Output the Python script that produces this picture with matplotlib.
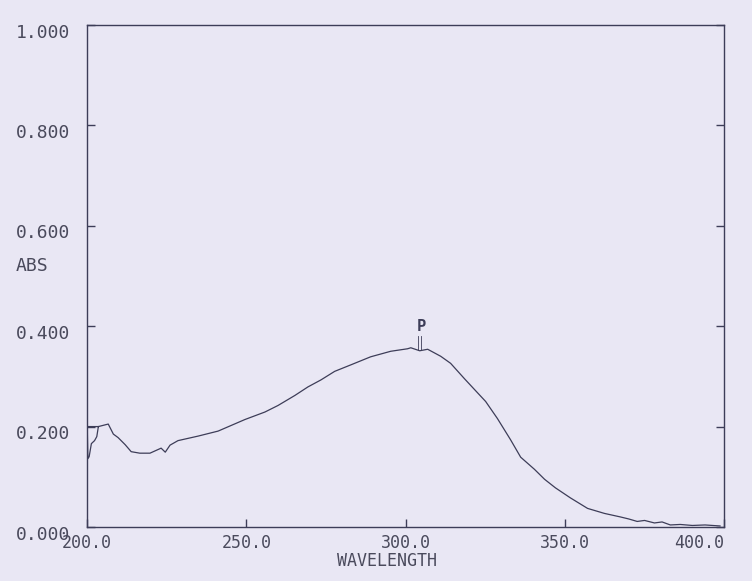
import numpy as np
import matplotlib
matplotlib.use('Agg')
import matplotlib.pyplot as plt
import matplotlib.transforms as mtransforms

# 掃描光譜的讀值 (波長 nm, 吸光度)
wavelength = [203.5, 200.0, 200.2, 200.6, 201.3, 202.3, 203.0, 203.5,
              206.6, 208.2, 209.7, 211.9, 213.8, 216.5, 219.7, 223.2, 224.5, 226.0,
              228.5, 234.8, 241.1, 249.5, 255.8, 259.9, 265.2, 269.3, 273.4,
              277.7, 282.8, 289.0, 295.3, 300.6, 301.6, 304.4, 306.9, 311.0,
              314.1, 318.5, 322.6, 325.1, 328.8, 332.9, 336.1, 340.4, 343.6,
              347.0, 351.7, 357.1, 362.4, 367.4, 370.0, 372.7, 375.0, 378.1,
              380.5, 383.1, 386.2, 390.0, 394.0, 398.7]
absorbance = [0.200, 0.200, 0.136, 0.140, 0.166, 0.172, 0.180, 0.200,
              0.205, 0.185, 0.178, 0.164, 0.150, 0.147, 0.147, 0.157, 0.149, 0.163,
              0.172, 0.181, 0.191, 0.214, 0.229, 0.242, 0.262, 0.279, 0.293,
              0.310, 0.323, 0.339, 0.350, 0.355, 0.357, 0.351, 0.354, 0.340,
              0.326, 0.295, 0.267, 0.250, 0.216, 0.174, 0.139, 0.115, 0.095,
              0.078, 0.058, 0.037, 0.027, 0.020, 0.016, 0.011, 0.013, 0.008,
              0.010, 0.004, 0.005, 0.003, 0.004, 0.002]

peak_wl = 304.4
peak_abs = 0.352

x_ticks = [200, 250, 300, 350, 400]
x_labels = ['200.0', '250.0', '300.0', '350.0', '400.0']
y_ticks = [0.0, 0.2, 0.4, 0.6, 0.8, 1.0]
y_labels = ['0.000', '0.200', '0.400', '0.600', '0.800', '1.000']

paper = '#e9e7f4'
ink = '#3d3d58'
label_ink = '#4a4a5c'

plt.rcParams['font.family'] = ['DejaVu Sans Mono']

fig = plt.figure(figsize=(7.52, 5.81), dpi=100, facecolor=paper)
ax = fig.add_axes([0.116, 0.093, 0.847, 0.864], facecolor=paper)

ax.plot(wavelength, absorbance, color=ink, lw=0.9)

# 峰值標記 P
ax.plot([peak_wl - 0.4, peak_wl - 0.4], [peak_abs, peak_abs + 0.028], color=ink, lw=0.6)
ax.plot([peak_wl + 0.4, peak_wl + 0.4], [peak_abs, peak_abs + 0.028], color=ink, lw=0.6)
ax.text(peak_wl + 0.5, peak_abs + 0.033, 'P', ha='center', va='bottom',
        fontsize=11, color=ink, fontweight='bold')

ax.set_xlim(200, 400)
ax.set_ylim(0, 1)

ax.set_xticks(x_ticks)
ax.set_xticklabels(x_labels, fontsize=12, color=label_ink)
ax.set_yticks(y_ticks)
ax.set_yticklabels(y_labels, fontsize=13, color=label_ink)

ax.tick_params(axis='y', direction='in', length=6, width=1, color=ink,
               left=True, right=True, pad=12)
ax.tick_params(axis='x', direction='in', length=6, width=1, color=ink,
               bottom=True, top=False, pad=5)
# 400.0 標籤往左縮
ax.get_xticklabels()[-1].set_horizontalalignment('right')
# y 標籤略低於刻度
shift = mtransforms.ScaledTranslation(0, -4 / 72, fig.dpi_scale_trans)
for lab in ax.get_yticklabels():
    lab.set_transform(lab.get_transform() + shift)

for s in ax.spines.values():
    s.set_color(ink)
    s.set_linewidth(1.0)

ax.text(-0.112, 0.52, 'ABS', transform=ax.transAxes, fontsize=13,
        color=label_ink, ha='left', va='center')
ax.set_xlabel('WAVELENGTH', fontsize=12, color=label_ink)
ax.xaxis.set_label_coords(0.47, -0.05)

fig.savefig('out.png', dpi=100, facecolor=paper)
